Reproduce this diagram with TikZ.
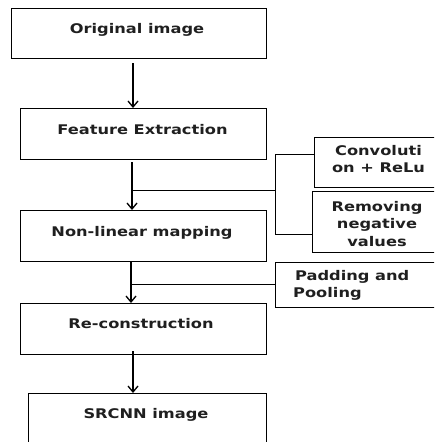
\documentclass[tikz,border=0pt]{standalone}
\usepackage{fontspec}
\setmainfont{DejaVu Sans}[FakeStretch=1.22]
\usetikzlibrary{arrows.meta}
\begin{document}
\begin{tikzpicture}[x=1pt,y=-1pt,
  box/.style={draw=black,line width=0.9pt,inner sep=0pt,outer sep=0pt},
  lbl/.style={font=\fontsize{13.3}{17}\selectfont\bfseries,inner sep=0pt,anchor=base,text=black!88},
  flow/.style={line width=1.6pt,-{Straight Barb[length=6pt,width=10pt,line width=1.3pt]}},
  link/.style={line width=1pt}]
\useasboundingbox (0,0) rectangle (434,442);
\clip (0,0) rectangle (434,442);
% boxes
\node[box,minimum width=255pt,minimum height=50pt] (orig) at (138.5,33) {};
\node[box,minimum width=246pt,minimum height=51pt] (feat) at (143,133.5) {};
\node[box,minimum width=246pt,minimum height=51pt] (nonlin) at (143,235.5) {};
\node[box,minimum width=246pt,minimum height=51pt] (recon) at (143,328.5) {};
\node[box,minimum width=238pt,minimum height=57pt] (srcnn) at (147,421.5) {};
\node[box,minimum width=126pt,minimum height=50pt] (conv) at (377,162) {};
\node[box,minimum width=128pt,minimum height=61pt] (remv) at (376,221.5) {};
\node[box,minimum width=165pt,minimum height=45pt] (pad) at (357.5,284.5) {};
% labels
\node[lbl] (torig) at (137,33) {Original image};
\node[lbl] (tfeat) at (142.5,134) {Feature Extraction};
\node[lbl] (tnon) at (142,236) {Non-linear mapping};
\node[lbl] (trec) at (141,328) {Re-construction};
\node[lbl] (tsr) at (146,418) {SRCNN image};
\node[lbl] (tconv1) at (378.5,155) {Convoluti};
\node[lbl] (tconv2) at (378.5,172) {on + ReLu};
\node[lbl] (trem1) at (377,211) {Removing};
\node[lbl] (trem2) at (377,228.5) {negative};
\node[lbl] (trem3) at (377,246) {values};
\node[lbl,anchor=base west] (tpad1) at (295,280) {Padding and};
\node[lbl,anchor=base west] (tpad2) at (293,297) {Pooling};
% connector points
\coordinate (a1s) at (133,63);
\coordinate (a2s) at (132,162);
\coordinate (j1) at (132,190);
\coordinate (b1) at (275,190);
\coordinate (b1t) at (275,154);
\coordinate (b1b) at (275,234);
\coordinate (a3s) at (131,262);
\coordinate (j2) at (131,284);
\coordinate (a4s) at (133,351);
% connectors
\draw[flow] (a1s) -- (a1s |- feat.north);
\draw[flow] (a2s) -- (a2s |- nonlin.north);
\draw[link] (j1) -- (b1);
\draw[link] (b1t) -- (b1b);
\draw[link] (b1t) -- (b1t -| conv.west);
\draw[link] (b1b) -- (b1b -| remv.west);
\draw[flow] (a3s) -- (a3s |- recon.north);
\draw[link] (j2) -- (j2 -| pad.west);
\draw[flow] (a4s) -- (a4s |- srcnn.north);
\end{tikzpicture}
\end{document}
